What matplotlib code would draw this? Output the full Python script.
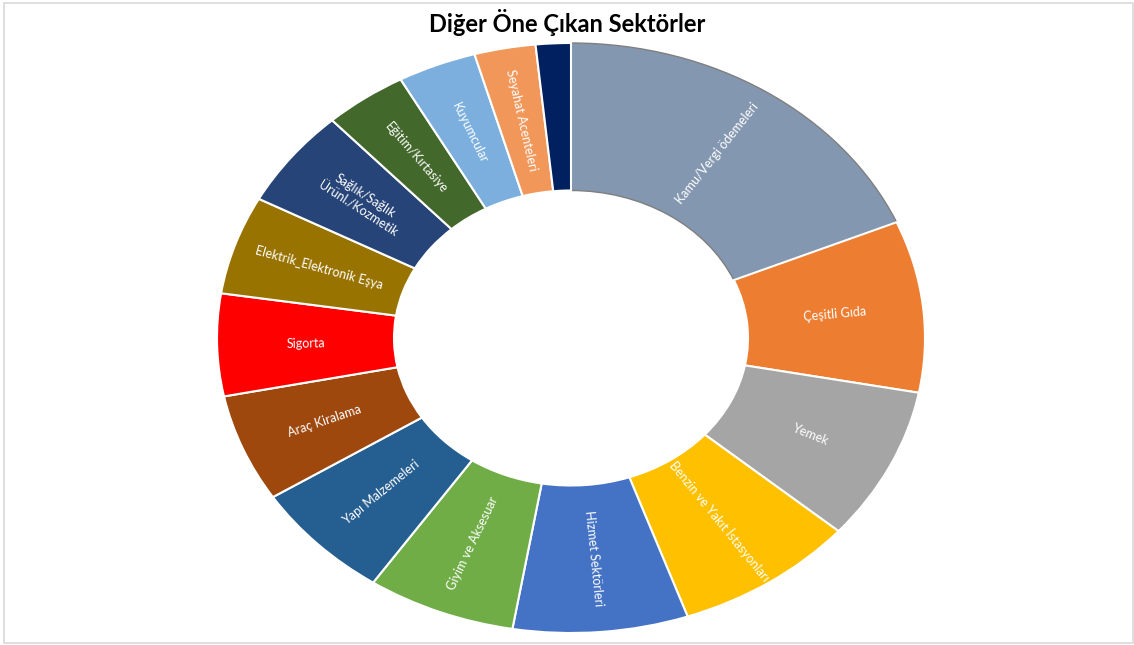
import numpy as np
import matplotlib.pyplot as plt
from matplotlib.patches import Rectangle

# ---------------- DATA ----------------
TITLE = "Diğer Öne Çıkan Sektörler"

sectors = [
    "Kamu/Vergi ödemeleri",
    "Çeşitli Gıda",
    "Yemek",
    "Benzin ve Yakıt İstasyonları",
    "Hizmet Sektörleri",
    "Giyim ve Aksesuar",
    "Yapı Malzemeleri",
    "Araç Kiralama",
    "Sigorta",
    "Elektrik_Elektronik Eşya",
    "Sağlık/Sağlık\nÜrünl./Kozmetik",
    "Eğitim/Kırtasiye",
    "Kuyumcular",
    "Seyahat Acenteleri",
    "",
]

shares = [18.6, 9.4, 8.4, 8.3, 8.0, 6.8, 6.5, 5.9, 5.6, 5.4, 5.4, 3.8, 3.6, 2.8, 1.6]

colors = [
    "#8497B0", "#ED7D31", "#A5A5A5", "#FFC000", "#4472C4",
    "#70AD47", "#255E91", "#9E480E", "#FF0000", "#997300",
    "#264478", "#43682B", "#7CAFDD", "#F1975A", "#002060",
]
# --------------------------------------

W, H, DPI = 1134, 645, 100
fig = plt.figure(figsize=(W / DPI, H / DPI), dpi=DPI)

# axes box matches the stretched (elliptical) doughnut
left, right, top, bottom = 217, 925, 43, 633
ax = fig.add_axes([left / W, 1 - bottom / H, (right - left) / W, (bottom - top) / H])

wedges, _ = ax.pie(
    shares,
    colors=colors,
    startangle=90,
    counterclock=False,
    radius=1.0,
    wedgeprops=dict(width=0.5, edgecolor="white", linewidth=1.5),
)
wedges[0].set_edgecolor("#7f7f7f")
wedges[0].set_linewidth(1.0)

ax.set_aspect("auto")
ax.set_xlim(-1, 1)
ax.set_ylim(-1, 1)
ax.axis("off")

# pixel scale per data unit, to turn radial direction into screen angle
sx = (right - left) / 2
sy = (bottom - top) / 2

for w, label in zip(wedges, sectors):
    if not label:
        continue
    mid = np.deg2rad((w.theta1 + w.theta2) / 2)
    r = 0.75
    x, y = r * np.cos(mid), r * np.sin(mid)
    rot = np.degrees(np.arctan2(np.sin(mid) * sy, np.cos(mid) * sx))
    if rot > 90:
        rot -= 180
    elif rot < -90:
        rot += 180
    ax.text(x, y, label, color="white", fontsize=9, family="Lato",
            ha="center", va="center", rotation=rot, rotation_mode="anchor",
            linespacing=1.25)

fig.text(0.5, 1 - 23 / H, TITLE, ha="center", va="center",
         fontsize=17, fontweight="bold", family="Lato")

# light frame around the picture
fig.patches.append(Rectangle((4 / W, 2 / H), 1 - 5 / W, 1 - 4.5 / H,
                             transform=fig.transFigure, fill=False,
                             edgecolor="#d9d9d9", linewidth=1.2))

fig.savefig("out.png", dpi=DPI)
plt.close(fig)
